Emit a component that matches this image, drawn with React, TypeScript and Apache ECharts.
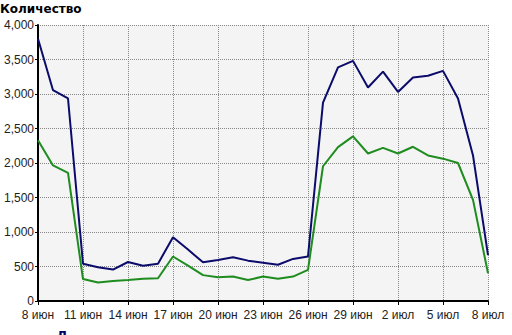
import React, { useEffect, useRef } from "react";
import * as echarts from "echarts";

const categories = [
  "8 июн", "9 июн", "10 июн", "11 июн", "12 июн", "13 июн", "14 июн", "15 июн",
  "16 июн", "17 июн", "18 июн", "19 июн", "20 июн", "21 июн", "22 июн", "23 июн",
  "24 июн", "25 июн", "26 июн", "27 июн", "28 июн", "29 июн", "30 июн", "1 июл",
  "2 июл", "3 июл", "4 июл", "5 июл", "6 июл", "7 июл", "8 июл",
];

const blueSeries = [
  3800, 3055, 2935, 540, 490, 455, 565, 510, 540, 925, 745, 560, 595, 635, 585, 555,
  525, 610, 645, 2875, 3385, 3480, 3095, 3325, 3030, 3240, 3265, 3335, 2935, 2110, 665,
];

const greenSeries = [
  2330, 1965, 1857, 318, 268, 290, 305, 324, 330, 645, 512, 375, 345, 355, 305, 354,
  322, 354, 451, 1953, 2230, 2385, 2138, 2220, 2138, 2235, 2109, 2063, 2000, 1465, 403,
];

const yTicks = { min: 0, max: 4000, interval: 500 };

export default function App() {
  const ref = useRef<HTMLDivElement>(null);
  useEffect(() => {
    if (!ref.current) return;
    const chart = echarts.init(ref.current, null, { renderer: "svg" });
    const font = "'Liberation Sans', Arial, sans-serif";
    chart.setOption({
      animation: false,
      backgroundColor: "#ffffff",
      textStyle: { fontFamily: font },
      grid: {
        left: 38,
        right: 24,
        top: 25,
        bottom: 34,
        show: true,
        backgroundColor: "#f4f4f4",
        borderWidth: 0,
      },
      graphic: [
        {
          type: "text",
          left: 0,
          top: 3,
          style: {
            text: "Количество",
            font: "bold 12px 'DejaVu Sans', sans-serif",
            fill: "#000",
          },
        },
        {
          type: "text",
          left: 57,
          top: 330,
          style: {
            text: "Д",
            font: "bold 12px 'DejaVu Sans', sans-serif",
            fill: "#000066",
          },
        },
      ],
      xAxis: {
        type: "category",
        data: categories,
        boundaryGap: false,
        axisLine: { show: true, lineStyle: { color: "#000", width: 2 } },
        axisTick: {
          show: true,
          interval: 2,
          length: 4,
          lineStyle: { color: "#000", width: 1 },
        },
        axisLabel: {
          interval: 2,
          color: "#222",
          fontSize: 12,
          fontFamily: font,
          margin: 8,
        },
        splitLine: {
          show: true,
          interval: 2,
          lineStyle: { color: "#888", type: "dotted", width: 1 },
        },
      },
      yAxis: {
        type: "value",
        min: yTicks.min,
        max: yTicks.max,
        interval: yTicks.interval,
        axisLine: { show: true, lineStyle: { color: "#000", width: 2 } },
        axisTick: { show: true, length: 3, lineStyle: { color: "#000" } },
        axisLabel: {
          color: "#222",
          fontSize: 12,
          fontFamily: font,
          margin: 4,
          formatter: (v: number) => v.toLocaleString("en-US"),
        },
        splitLine: {
          show: true,
          lineStyle: { color: "#888", type: "dotted", width: 1 },
        },
      },
      series: [
        {
          type: "line",
          data: blueSeries,
          symbol: "none",
          lineStyle: { color: "#0b0b6b", width: 2 },
          z: 3,
        },
        {
          type: "line",
          data: greenSeries,
          symbol: "none",
          lineStyle: { color: "#1e8c1e", width: 2 },
          z: 2,
        },
      ],
    });
    return () => chart.dispose();
  }, []);
  return (
    <div
      ref={ref}
      style={{ position: "absolute", left: 0, top: 0, width: 512, height: 335 }}
    />
  );
}
